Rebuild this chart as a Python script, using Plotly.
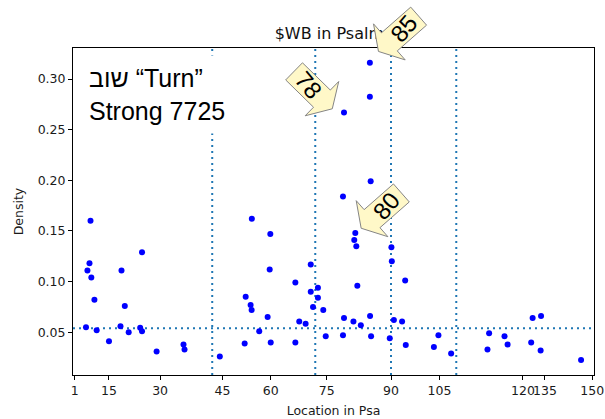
import math
import plotly.graph_objects as go

# ---------------- data ----------------
# x: position in the Psalter (running verse index), y: density of the root
location = [78, 73, 63, 82, 97, 56, 108, 168, 229, 245, 224, 264, 329, 320, 329, 400, 531, 536, 708,
            864, 834, 858, 863, 829, 900,
            1439, 1439, 1313, 1443, 1308, 954, 1368, 1363, 1373, 1544, 1546, 951, 1151, 1076, 1186,
            1151, 1378, 1611, 1186, 1162, 1212, 941, 1095, 1126, 1313, 1359, 1395, 1440, 1556, 1596,
            956, 1076, 1224, 1308, 1445, 1536, 1614, 1773, 1751, 1835, 2020, 2012, 2095, 2110,
            2232, 2273, 2225, 2271, 2468]
density = [0.160, 0.118, 0.111, 0.104, 0.082, 0.055, 0.052, 0.041, 0.111, 0.076, 0.056, 0.050, 0.129,
           0.0545, 0.051, 0.031, 0.038, 0.033, 0.026,
           0.162, 0.085, 0.077, 0.072, 0.039, 0.051,
           0.316, 0.2825, 0.267, 0.199, 0.184, 0.147, 0.148, 0.141, 0.135, 0.134, 0.120, 0.112, 0.117,
           0.099, 0.094, 0.090, 0.096, 0.101, 0.084, 0.075, 0.072, 0.065, 0.0605, 0.0585, 0.064,
           0.0605, 0.057, 0.066, 0.062, 0.0605,
           0.040, 0.040, 0.046, 0.047, 0.046, 0.044, 0.0375, 0.047, 0.0355, 0.029, 0.049, 0.033,
           0.046, 0.038, 0.064, 0.066, 0.040, 0.032, 0.0226]

tick_labels = ["1", "15", "30", "45", "60", "75", "90", "105", "120", "135", "150"]
tick_positions = [1, 168, 417, 721, 956, 1229, 1542, 1778, 2185, 2292, 2522]
book_starts = [671, 1173, 1542, 1860]      # Psalms 42, 73, 90, 107
mean_density = 0.054
y_ticks = [0.05, 0.10, 0.15, 0.20, 0.25, 0.30]

title_text = "$WB in Psalms"
callout_labels = ["78", "85", "80"]

# ---------------- layout constants ----------------
W, H = 605, 419
ML, MR, MT, MB = 73, 11, 20, 44      # outer margins (paper area reaches up to the title)
PLOT_TOP = 48                          # top edge of the axes box, px
PW, PH = W - ML - MR, H - MT - MB
Y_DOMAIN_TOP = (H - MB - PLOT_TOP) / PH
XR = [-7.3, 2531]
YR = [0.0078, 0.3306]


def paper(X, Y):
    return (X - ML) / PW, (H - MB - Y) / PH


def callout_path(cx, cy, phi):
    a = math.radians(phi)
    dx, dy = math.cos(a), math.sin(a)
    qx, qy = -math.sin(a), math.cos(a)
    local = [(-19.5, -12), (19.5, -12), (19.5, -24), (34, 0), (19.5, 24), (19.5, 12), (-19.5, 12)]
    pts = []
    for u, v in local:
        X = cx + u * dx + v * qx
        Y = cy + u * dy + v * qy
        px, py = paper(X, Y)
        pts.append(f"{px:.5f},{py:.5f}")
    return "M " + " L ".join(pts) + " Z"


fig = go.Figure()

# title written on an invisible full-height subplot so the pasted callout can sit over it
fig.add_trace(go.Scatter(
    x=[0.5], y=[paper(0, 35)[1]], mode="text", text=[title_text],
    textfont=dict(family="DejaVu Sans", size=16, color="#111"),
    textposition="middle center", hoverinfo="skip", showlegend=False,
    xaxis="x2", yaxis="y2"))

fig.add_trace(go.Scatter(
    x=location, y=density, mode="markers",
    marker=dict(color="#0000ff", size=6, line=dict(width=0)),
    showlegend=False))

shapes = []
for b in book_starts:
    shapes.append(dict(type="line", xref="x", yref="y domain", x0=b, x1=b, y0=0, y1=1,
                       line=dict(color="#1f77b4", width=2, dash="2px,4px"), layer="below"))
shapes.append(dict(type="line", xref="x domain", yref="y", x0=0, x1=1, y0=mean_density, y1=mean_density,
                   line=dict(color="#1f77b4", width=2, dash="2px,4px"), layer="below"))

# callouts (center px, axis angle, text angle)
callouts = [(308, 85, 44.4, 50), (404, 29, 138.7, -50), (386.7, 205.8, 138.7, -50)]
annotations = []
for lab, (cx, cy, phi, ta) in zip(callout_labels, callouts):
    shapes.append(dict(type="path", xref="paper", yref="paper", path=callout_path(cx, cy, phi),
                       fillcolor="#fff8c8", line=dict(color="#858585", width=1), layer="above"))
    px, py = paper(cx, cy)
    annotations.append(dict(xref="paper", yref="paper", x=px, y=py, text=lab, showarrow=False,
                            textangle=ta, xanchor="center", yanchor="middle",
                            font=dict(family="Liberation Sans, Arial", size=24, color="black")))

tx, ty = paper(80, 55)
annotations.append(dict(xref="paper", yref="paper", x=tx, y=ty, xanchor="left", yanchor="top",
                        text="שוב “Turn”<br>Strong 7725", align="left", showarrow=False,
                        bgcolor="white", borderpad=8,
                        font=dict(family="Liberation Sans, Arial", size=25, color="black")))

axis_font = dict(family="DejaVu Sans", size=12.5, color="#1a1a1a")
fig.update_layout(
    width=W, height=H, margin=dict(l=ML, r=MR, t=MT, b=MB, autoexpand=False),
    paper_bgcolor="white", plot_bgcolor="rgba(0,0,0,0)",
    shapes=shapes, annotations=annotations,
    xaxis=dict(range=XR, domain=[0, 1], anchor="y", showline=True, mirror=True,
               linecolor="black", linewidth=1, automargin=False,
               ticks="outside", ticklen=4, tickwidth=1, tickcolor="black",
               tickvals=tick_positions, ticktext=tick_labels, tickangle=0,
               showgrid=False, zeroline=False, tickfont=axis_font,
               title=dict(text="Location in Psa", font=axis_font, standoff=9)),
    yaxis=dict(range=YR, domain=[0, Y_DOMAIN_TOP], anchor="x", showline=True, mirror=True,
               linecolor="black", linewidth=1, automargin=False,
               ticks="outside", ticklen=4, tickwidth=1, tickcolor="black",
               tickvals=y_ticks, ticktext=[f"{v:.2f}" for v in y_ticks],
               showgrid=False, zeroline=False, tickfont=axis_font,
               title=dict(text="Density", font=axis_font, standoff=11)),
    xaxis2=dict(domain=[0, 1], range=[0, 1], anchor="y2", visible=False, fixedrange=True,
                automargin=False),
    yaxis2=dict(domain=[0, 1], range=[0, 1], anchor="x2", visible=False, fixedrange=True,
                automargin=False),
)

fig.write_html("out.html")
